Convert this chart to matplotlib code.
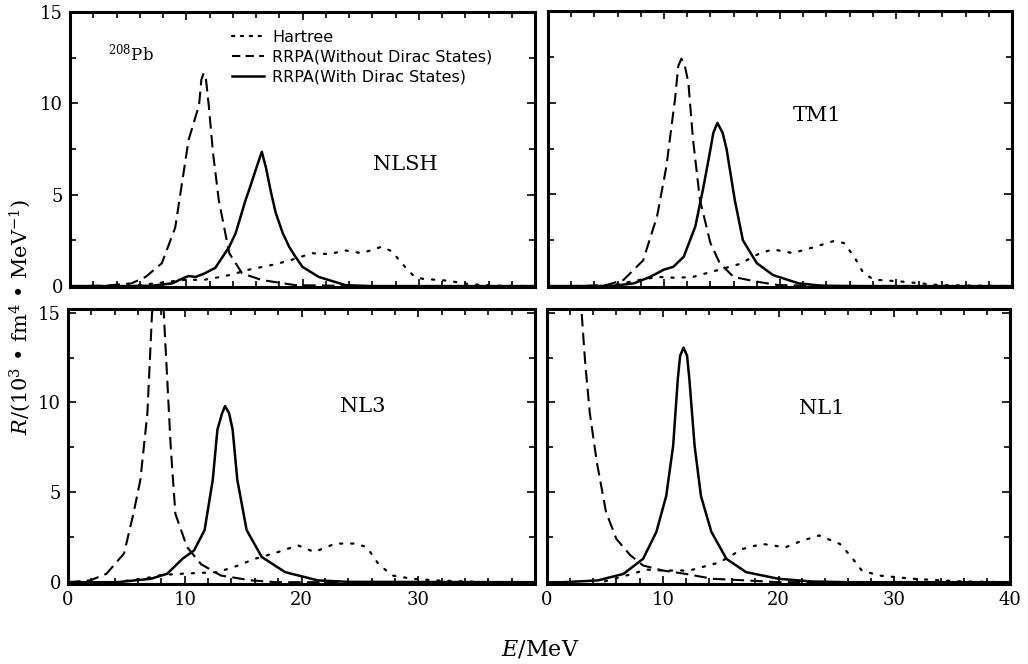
import numpy as np
import matplotlib
matplotlib.use('Agg')
import matplotlib.pyplot as plt
from matplotlib.ticker import MultipleLocator
from matplotlib.lines import Line2D

plt.rcParams['font.family'] = 'DejaVu Serif'
plt.rcParams['mathtext.fontset'] = 'dejavuserif'

# ---- data (E in MeV, R in 10^3 fm^4 MeV^-1) ----
# NLSH
nlsh_hartree_E = [4, 6, 8, 10, 11.4, 12.5, 13.7, 15.4, 17.7, 19.4, 20.8, 22.3, 23.7, 25.1, 26.8, 27.7, 28.6, 29.5, 30.3, 32.4, 34.4, 36.8, 40]
nlsh_hartree_R = [0.0, 0.05, 0.2, 0.35, 0.33, 0.45, 0.6, 0.9, 1.2, 1.5, 1.8, 1.75, 1.95, 1.8, 2.15, 1.9, 1.2, 0.6, 0.4, 0.3, 0.1, 0.02, 0.0]
nlsh_nodirac_E = [0, 3, 5.3, 6.5, 7.9, 9.05, 10.2, 11.1, 11.3, 11.5, 11.7, 11.95, 12.3, 12.8, 13.7, 14.8, 16.5, 19.4, 25, 40]
nlsh_nodirac_R = [0, 0.02, 0.15, 0.5, 1.25, 3.2, 8.0, 9.9, 11.3, 11.65, 11.3, 9.8, 7.3, 4.7, 1.8, 0.7, 0.33, 0.05, 0, 0]
nlsh_dirac_E = [0, 5, 7, 8.8, 9.8, 10.2, 10.8, 11.6, 12.5, 13.7, 14.25, 15.1, 15.4, 16.1, 16.5, 16.85, 17.3, 17.7, 18.3, 18.85, 19.4, 20.0, 21.4, 23.7, 26, 40]
nlsh_dirac_R = [0, 0, 0.02, 0.15, 0.45, 0.55, 0.5, 0.7, 1.0, 2.15, 2.9, 4.7, 5.25, 6.6, 7.35, 6.5, 5.1, 4.0, 2.9, 2.15, 1.6, 1.05, 0.5, 0.05, 0, 0]

# TM1
tm1_hartree_E = [4, 6, 8, 9.5, 11, 12.5, 14.8, 16.5, 18.3, 19.4, 21.1, 22.8, 24.6, 25.5, 26.4, 27.2, 28.1, 30.4, 33.8, 37, 40]
tm1_hartree_R = [0.0, 0.1, 0.35, 0.5, 0.45, 0.5, 0.9, 1.2, 1.8, 2.0, 1.8, 2.1, 2.45, 2.35, 1.6, 0.7, 0.35, 0.25, 0.05, 0.02, 0]
tm1_nodirac_E = [0, 3, 5, 6.5, 8.2, 9.4, 10.2, 10.95, 11.23, 11.5, 11.8, 12.1, 12.5, 13.1, 14.0, 14.8, 16.0, 17.9, 19.9, 25, 40]
tm1_nodirac_R = [0, 0.01, 0.05, 0.33, 1.4, 3.8, 6.5, 10.2, 12.0, 12.4, 12.0, 11.1, 8.0, 4.7, 2.35, 1.25, 0.5, 0.25, 0.05, 0, 0]
tm1_dirac_E = [0, 4, 5.7, 7.4, 8.8, 10.0, 10.8, 11.7, 12.7, 13.4, 14.0, 14.25, 14.6, 15.06, 15.4, 16.1, 16.8, 18.0, 19.4, 21.6, 23.6, 27, 40]
tm1_dirac_R = [0, 0, 0.02, 0.15, 0.5, 0.9, 1.05, 1.6, 3.25, 5.4, 7.45, 8.35, 8.9, 8.35, 7.45, 4.7, 2.5, 1.25, 0.6, 0.15, 0.02, 0, 0]

# NL3
nl3_hartree_E = [4, 6.5, 8, 9.7, 12.8, 14.2, 16, 18, 19.7, 21.1, 22.9, 24.6, 25.6, 26.6, 27.8, 29.5, 31.5, 35.8, 40]
nl3_hartree_R = [0, 0.2, 0.4, 0.47, 0.56, 0.84, 1.3, 1.68, 2.05, 1.68, 2.15, 2.15, 1.95, 1.0, 0.37, 0.19, 0.1, 0.0, 0]
nl3_nodirac_E = [0, 1.9, 3.3, 4.8, 5.6, 6.2, 6.8, 7.2, 7.7, 8.2, 8.5, 8.8, 9.2, 10.2, 11.4, 13.1, 15.7, 17.9, 40]
nl3_nodirac_R = [0, 0.1, 0.47, 1.6, 3.8, 5.7, 9.4, 15.0, 17.5, 15.0, 11.3, 7.5, 3.8, 1.95, 1.0, 0.37, 0.1, 0, 0]
nl3_dirac_E = [0, 4.2, 7.1, 8.5, 9.8, 10.8, 11.7, 12.4, 12.8, 13.2, 13.45, 13.8, 14.1, 14.5, 15.3, 16.6, 18.6, 21.4, 24, 40]
nl3_dirac_R = [0, 0, 0.19, 0.47, 1.3, 1.77, 2.9, 5.7, 8.5, 9.4, 9.8, 9.4, 8.5, 5.7, 2.9, 1.4, 0.56, 0.1, 0.02, 0]

# NL1
nl1_hartree_E = [5, 7, 8.6, 10, 12.3, 14.9, 16.9, 18.6, 20.6, 22, 23.5, 25.3, 26.2, 27.2, 28.7, 31.6, 35.9, 40]
nl1_hartree_R = [0.05, 0.4, 0.7, 0.65, 0.65, 1.1, 1.85, 2.13, 1.94, 2.3, 2.6, 2.13, 1.48, 0.65, 0.37, 0.19, 0.04, 0]
nl1_nodirac_E = [2.7, 2.97, 3.3, 3.7, 4.3, 5.1, 6.0, 7.2, 8.3, 10, 12, 14.3, 17.2, 20, 40]
nl1_nodirac_R = [17.0, 15.2, 12.2, 9.4, 6.7, 3.9, 2.4, 1.5, 0.93, 0.65, 0.46, 0.19, 0.1, 0, 0]
nl1_dirac_E = [0, 1.4, 4.4, 6.6, 8.3, 9.45, 10.3, 10.9, 11.3, 11.5, 11.8, 12.1, 12.3, 12.75, 13.3, 14.2, 15.5, 17.2, 20, 22.9, 26, 40]
nl1_dirac_R = [0, 0, 0.1, 0.46, 1.3, 2.8, 4.8, 7.6, 11.3, 12.6, 13.05, 12.6, 11.3, 7.6, 4.8, 2.8, 1.3, 0.56, 0.19, 0.04, 0, 0]

models = ['NLSH', 'TM1', 'NL3', 'NL1']
legend_labels = ['Hartree', 'RRPA(Without Dirac States)', 'RRPA(With Dirac States)']

panels = [
    (nlsh_hartree_E, nlsh_hartree_R, nlsh_nodirac_E, nlsh_nodirac_R, nlsh_dirac_E, nlsh_dirac_R),
    (tm1_hartree_E, tm1_hartree_R, tm1_nodirac_E, tm1_nodirac_R, tm1_dirac_E, tm1_dirac_R),
    (nl3_hartree_E, nl3_hartree_R, nl3_nodirac_E, nl3_nodirac_R, nl3_dirac_E, nl3_dirac_R),
    (nl1_hartree_E, nl1_hartree_R, nl1_nodirac_E, nl1_nodirac_R, nl1_dirac_E, nl1_dirac_R),
]

W, H = 1028, 664
fig = plt.figure(figsize=(W / 100, H / 100), dpi=100)

# axes boxes in pixels: left, top, right, bottom
boxes = [(70, 12, 535, 287), (548, 11, 1012, 287), (68, 309, 535, 584), (547, 309, 1010, 584)]
ylims = [(-0.05, 15.0), (-0.05, 15.0), (-0.1, 15.2), (-0.1, 15.2)]
label_pos = [(0.72, 0.444), (0.58, 0.623), (0.632, 0.644), (0.594, 0.64)]

dotted = (0, (1, 4))
dashed = (0, (6, 3))

axes = []
for i, (l, t, r, b) in enumerate(boxes):
    ax = fig.add_axes([l / W, 1 - b / H, (r - l) / W, (b - t) / H])
    hE, hR, nE, nR, dE, dR = panels[i]
    ax.plot(hE, hR, color='black', lw=1.6, linestyle=dotted, dash_capstyle='round')
    ax.plot(nE, nR, color='black', lw=1.5, linestyle=dashed)
    ax.plot(dE, dR, color='black', lw=1.8)
    ax.set_xlim(0, 40)
    ax.set_ylim(*ylims[i])
    ax.xaxis.set_major_locator(MultipleLocator(10))
    ax.xaxis.set_minor_locator(MultipleLocator(2))
    ax.yaxis.set_major_locator(MultipleLocator(5))
    ax.yaxis.set_minor_locator(MultipleLocator(2.5))
    ax.tick_params(which='both', direction='in', top=True, right=True, width=1.2,
                   labelsize=13, pad=5)
    ax.tick_params(which='major', length=6)
    ax.tick_params(which='minor', length=4.5)
    for s in ax.spines.values():
        s.set_linewidth(2.2)
    if i in (0, 1):
        ax.tick_params(labelbottom=False)
    if i in (1, 3):
        ax.tick_params(labelleft=False)
    if i == 2:
        ax.set_xticks([0, 10, 20, 30])
        ax.xaxis.set_minor_locator(MultipleLocator(2))
    ax.text(label_pos[i][0], label_pos[i][1], models[i], transform=ax.transAxes,
            ha='center', va='center', fontsize=15)
    axes.append(ax)

axes[0].text(0.082, 0.85, r'$^{208}$Pb', transform=axes[0].transAxes,
             ha='left', va='center', fontsize=12)

handles = [Line2D([], [], color='black', lw=1.6, linestyle=(0, (1, 3)), dash_capstyle='round'),
           Line2D([], [], color='black', lw=1.5, linestyle=(0, (4, 2.5))),
           Line2D([], [], color='black', lw=1.8)]
axes[0].legend(handles, legend_labels, loc='upper left', bbox_to_anchor=(232 / W, 1 - 30 / H),
               bbox_transform=fig.transFigure, frameon=False, borderpad=0, borderaxespad=0,
               handlelength=2.0, handletextpad=0.5, labelspacing=0.3,
               prop={'family': 'DejaVu Sans', 'size': 11.5})

fig.text(20 / W, 1 - 317 / H, r'$R$/(10$^3$ • fm$^4$ • MeV$^{-1}$)', rotation=90,
         ha='center', va='center', fontsize=15)
fig.text(540 / W, 1 - 649 / H, r'$E$/MeV', ha='center', va='center', fontsize=16)

fig.savefig('out.png', dpi=100)
